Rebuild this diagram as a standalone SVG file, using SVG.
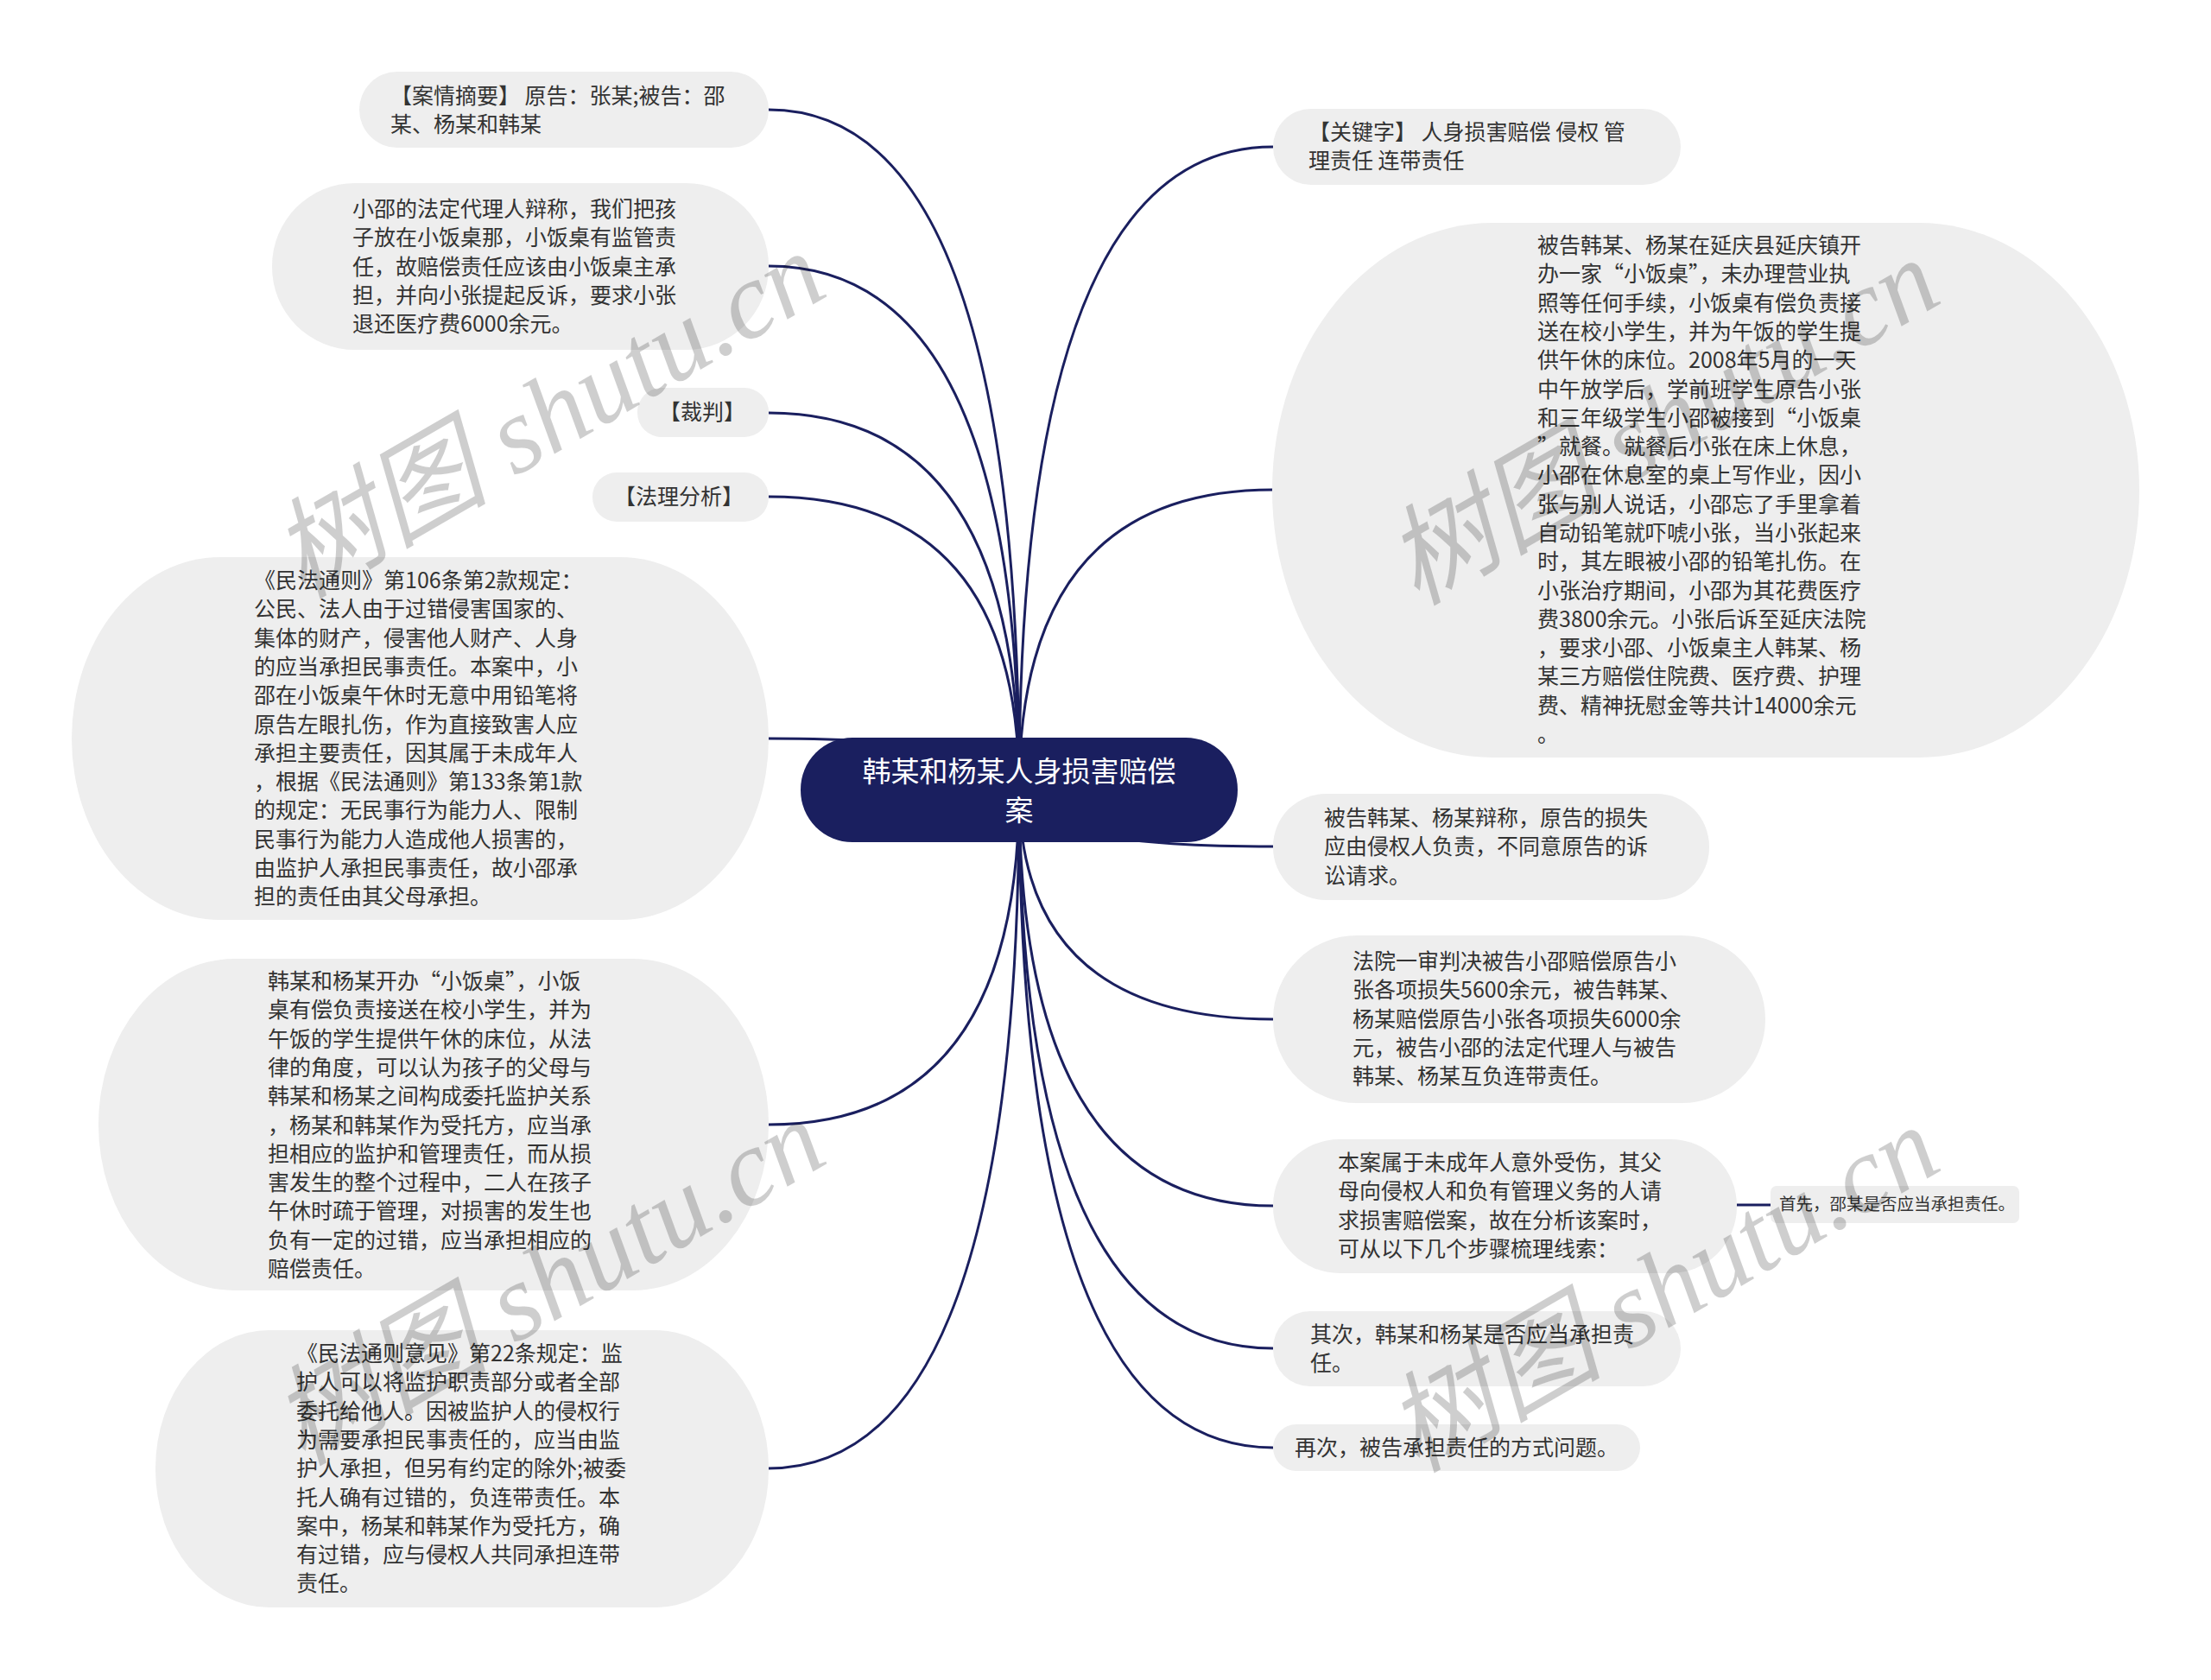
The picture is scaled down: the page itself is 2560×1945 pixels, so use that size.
<svg xmlns="http://www.w3.org/2000/svg" width="2560" height="1945" viewBox="0 0 2560 1945">
<style>
.n{fill:#eeeeee}
.t{font-family:"Noto Sans CJK SC","Noto Sans",sans-serif;font-size:25px;fill:#333333}
.s{font-family:"Noto Sans CJK SC","Noto Sans",sans-serif;font-size:19.5px;fill:#333333}
.c{fill:none;stroke:#1a1f5f;stroke-width:3}
.wm{font-family:"Liberation Serif","Noto Sans CJK SC",serif;font-style:italic;font-size:126px;fill:#000;opacity:0.19}
</style>
<rect width="2560" height="1945" fill="#ffffff"/>
<g id="connectors">
<path class="c" d="M1180 914 Q1180 127 890 127"/>
<path class="c" d="M1180 914 Q1180 308 890 308"/>
<path class="c" d="M1180 914 Q1180 478 890 478"/>
<path class="c" d="M1180 914 Q1180 575 890 575"/>
<path class="c" d="M1180 914 Q1180 855 890 855"/>
<path class="c" d="M1180 914 Q1180 1302 890 1302"/>
<path class="c" d="M1180 914 Q1180 1700 890 1700"/>
<path class="c" d="M1180 914 Q1180 170 1474 170"/>
<path class="c" d="M1180 914 Q1180 567 1474 567"/>
<path class="c" d="M1180 914 Q1180 980 1474 980"/>
<path class="c" d="M1180 914 Q1180 1180 1474 1180"/>
<path class="c" d="M1180 914 Q1180 1396 1474 1396"/>
<path class="c" d="M1180 914 Q1180 1561 1474 1561"/>
<path class="c" d="M1180 914 Q1180 1676 1474 1676"/>
<path class="c" d="M2011 1395 L2050 1395"/>
</g>
<g id="root">
<rect x="927" y="854" width="506" height="121" rx="60" fill="#1a1f5f"/>
<text font-family="'Noto Sans CJK SC',sans-serif" font-size="33" fill="#ffffff" text-anchor="middle"><tspan x="1180" y="905">韩某和杨某人身损害赔偿</tspan><tspan x="1180" y="950">案</tspan></text>
</g>
<g id="n1">
<rect class="n" x="416" y="83" width="474" height="88" rx="44"/>
<text class="t"><tspan x="452" y="120">【案情摘要】 原告：张某;被告：邵</tspan><tspan x="452" dy="33.3">某、杨某和韩某</tspan></text>
</g>
<g id="n2">
<rect class="n" x="315" y="212" width="575" height="193" rx="96"/>
<text class="t"><tspan x="408" y="251">小邵的法定代理人辩称，我们把孩</tspan><tspan x="408" dy="33.3">子放在小饭桌那，小饭桌有监管责</tspan><tspan x="408" dy="33.3">任，故赔偿责任应该由小饭桌主承</tspan><tspan x="408" dy="33.3">担，并向小张提起反诉，要求小张</tspan><tspan x="408" dy="33.3">退还医疗费6000余元。</tspan></text>
</g>
<g id="n3">
<rect class="n" x="738" y="449" width="152" height="57" rx="28"/>
<text class="t" x="763" y="486">【裁判】</text>
</g>
<g id="n4">
<rect class="n" x="686" y="547" width="204" height="57" rx="28"/>
<text class="t" x="711" y="584">【法理分析】</text>
</g>
<g id="n5">
<rect class="n" x="83" y="645" width="807" height="420" rx="172" ry="210"/>
<text class="t"><tspan x="294" y="681">《民法通则》第106条第2款规定：</tspan><tspan x="294" dy="33.3">公民、法人由于过错侵害国家的、</tspan><tspan x="294" dy="33.3">集体的财产，侵害他人财产、人身</tspan><tspan x="294" dy="33.3">的应当承担民事责任。本案中，小</tspan><tspan x="294" dy="33.3">邵在小饭桌午休时无意中用铅笔将</tspan><tspan x="294" dy="33.3">原告左眼扎伤，作为直接致害人应</tspan><tspan x="294" dy="33.3">承担主要责任，因其属于未成年人</tspan><tspan x="294" dy="33.3">，根据《民法通则》第133条第1款</tspan><tspan x="294" dy="33.3">的规定：无民事行为能力人、限制</tspan><tspan x="294" dy="33.3">民事行为能力人造成他人损害的，</tspan><tspan x="294" dy="33.3">由监护人承担民事责任，故小邵承</tspan><tspan x="294" dy="33.3">担的责任由其父母承担。</tspan></text>
</g>
<g id="n6">
<rect class="n" x="114" y="1110" width="776" height="384" rx="157" ry="192"/>
<text class="t"><tspan x="310" y="1145">韩某和杨某开办“小饭桌”，小饭</tspan><tspan x="310" dy="33.3">桌有偿负责接送在校小学生，并为</tspan><tspan x="310" dy="33.3">午饭的学生提供午休的床位，从法</tspan><tspan x="310" dy="33.3">律的角度，可以认为孩子的父母与</tspan><tspan x="310" dy="33.3">韩某和杨某之间构成委托监护关系</tspan><tspan x="310" dy="33.3">，杨某和韩某作为受托方，应当承</tspan><tspan x="310" dy="33.3">担相应的监护和管理责任，而从损</tspan><tspan x="310" dy="33.3">害发生的整个过程中，二人在孩子</tspan><tspan x="310" dy="33.3">午休时疏于管理，对损害的发生也</tspan><tspan x="310" dy="33.3">负有一定的过错，应当承担相应的</tspan><tspan x="310" dy="33.3">赔偿责任。</tspan></text>
</g>
<g id="n7">
<rect class="n" x="180" y="1540" width="710" height="321" rx="132" ry="160"/>
<text class="t"><tspan x="343" y="1576">《民法通则意见》第22条规定：监</tspan><tspan x="343" dy="33.3">护人可以将监护职责部分或者全部</tspan><tspan x="343" dy="33.3">委托给他人。因被监护人的侵权行</tspan><tspan x="343" dy="33.3">为需要承担民事责任的，应当由监</tspan><tspan x="343" dy="33.3">护人承担，但另有约定的除外;被委</tspan><tspan x="343" dy="33.3">托人确有过错的，负连带责任。本</tspan><tspan x="343" dy="33.3">案中，杨某和韩某作为受托方，确</tspan><tspan x="343" dy="33.3">有过错，应与侵权人共同承担连带</tspan><tspan x="343" dy="33.3">责任。</tspan></text>
</g>
<g id="r1">
<rect class="n" x="1474" y="126" width="472" height="88" rx="44"/>
<text class="t"><tspan x="1515" y="162">【关键字】 人身损害赔偿 侵权 管</tspan><tspan x="1515" dy="33.3">理责任 连带责任</tspan></text>
</g>
<g id="r2">
<rect class="n" x="1473" y="258" width="1004" height="619" rx="255" ry="310"/>
<text class="t"><tspan x="1780" y="293">被告韩某、杨某在延庆县延庆镇开</tspan><tspan x="1780" dy="33.3">办一家“小饭桌”，未办理营业执</tspan><tspan x="1780" dy="33.3">照等任何手续，小饭桌有偿负责接</tspan><tspan x="1780" dy="33.3">送在校小学生，并为午饭的学生提</tspan><tspan x="1780" dy="33.3">供午休的床位。2008年5月的一天</tspan><tspan x="1780" dy="33.3">中午放学后，学前班学生原告小张</tspan><tspan x="1780" dy="33.3">和三年级学生小邵被接到“小饭桌</tspan><tspan x="1780" dy="33.3">”就餐。就餐后小张在床上休息，</tspan><tspan x="1780" dy="33.3">小邵在休息室的桌上写作业，因小</tspan><tspan x="1780" dy="33.3">张与别人说话，小邵忘了手里拿着</tspan><tspan x="1780" dy="33.3">自动铅笔就吓唬小张，当小张起来</tspan><tspan x="1780" dy="33.3">时，其左眼被小邵的铅笔扎伤。在</tspan><tspan x="1780" dy="33.3">小张治疗期间，小邵为其花费医疗</tspan><tspan x="1780" dy="33.3">费3800余元。小张后诉至延庆法院</tspan><tspan x="1780" dy="33.3">，要求小邵、小饭桌主人韩某、杨</tspan><tspan x="1780" dy="33.3">某三方赔偿住院费、医疗费、护理</tspan><tspan x="1780" dy="33.3">费、精神抚慰金等共计14000余元</tspan><tspan x="1780" dy="33.3">。</tspan></text>
</g>
<g id="r3">
<rect class="n" x="1474" y="919" width="505" height="123" rx="61"/>
<text class="t"><tspan x="1533" y="956">被告韩某、杨某辩称，原告的损失</tspan><tspan x="1533" dy="33.3">应由侵权人负责，不同意原告的诉</tspan><tspan x="1533" dy="33.3">讼请求。</tspan></text>
</g>
<g id="r4">
<rect class="n" x="1474" y="1083" width="570" height="194" rx="97"/>
<text class="t"><tspan x="1566" y="1122">法院一审判决被告小邵赔偿原告小</tspan><tspan x="1566" dy="33.3">张各项损失5600余元，被告韩某、</tspan><tspan x="1566" dy="33.3">杨某赔偿原告小张各项损失6000余</tspan><tspan x="1566" dy="33.3">元，被告小邵的法定代理人与被告</tspan><tspan x="1566" dy="33.3">韩某、杨某互负连带责任。</tspan></text>
</g>
<g id="r5">
<rect class="n" x="1474" y="1319" width="537" height="155" rx="77"/>
<text class="t"><tspan x="1549" y="1355">本案属于未成年人意外受伤，其父</tspan><tspan x="1549" dy="33.3">母向侵权人和负有管理义务的人请</tspan><tspan x="1549" dy="33.3">求损害赔偿案，故在分析该案时，</tspan><tspan x="1549" dy="33.3">可从以下几个步骤梳理线索：</tspan></text>
</g>
<g id="r5a">
<rect class="n" x="2050" y="1373" width="288" height="43" rx="7"/>
<text class="s" x="2060" y="1401">首先，邵某是否应当承担责任。</text>
</g>
<g id="r6">
<rect class="n" x="1474" y="1518" width="472" height="87" rx="43"/>
<text class="t"><tspan x="1517" y="1554">其次，韩某和杨某是否应当承担责</tspan><tspan x="1517" dy="33.3">任。</tspan></text>
</g>
<g id="r7">
<rect class="n" x="1474" y="1649" width="425" height="54" rx="27"/>
<text class="t" x="1499" y="1685">再次，被告承担责任的方式问题。</text>
</g>
<g id="watermarks">
<text class="wm" transform="translate(350,694) rotate(-30)">树图 shutu.cn</text>
<text class="wm" transform="translate(1640,702) rotate(-30)">树图 shutu.cn</text>
<text class="wm" transform="translate(350,1698) rotate(-30)">树图 shutu.cn</text>
<text class="wm" transform="translate(1640,1706) rotate(-30)">树图 shutu.cn</text>
</g>
</svg>
